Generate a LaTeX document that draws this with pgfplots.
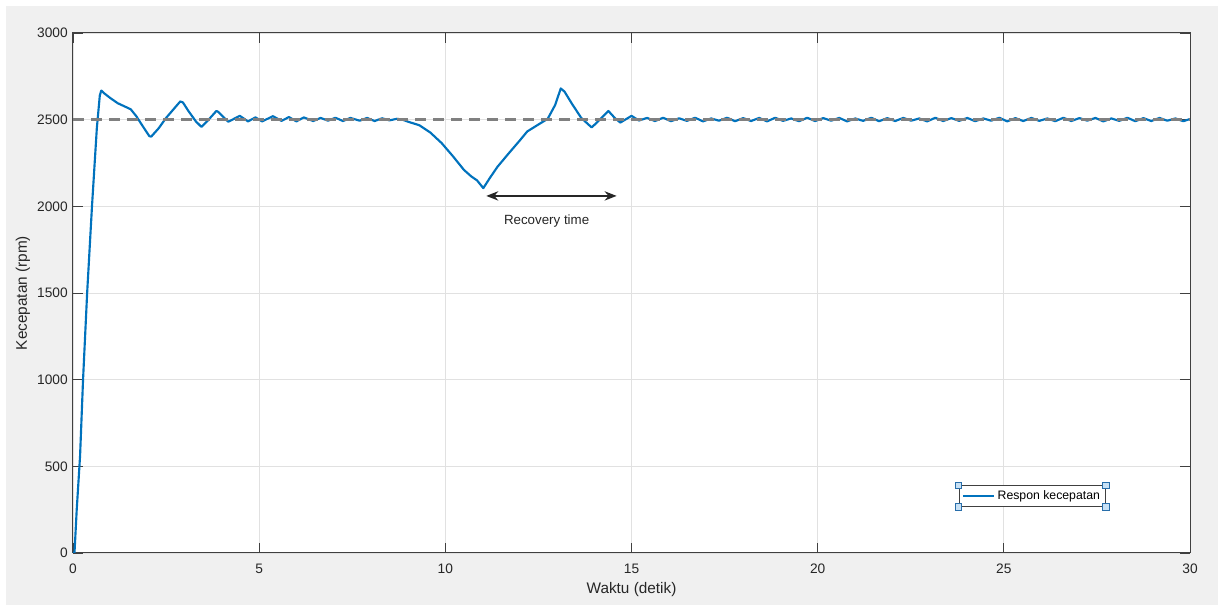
\documentclass[border=0pt]{standalone}
\usepackage{pgfplots}
\pgfplotsset{compat=1.18}
\usepackage{fontspec}
\setmainfont{Liberation Sans}
\usetikzlibrary{arrows.meta,backgrounds}
\definecolor{figbg}{RGB}{240,240,240}
\definecolor{mblue}{RGB}{0,114,189}
\definecolor{refgray}{RGB}{128,128,128}
\definecolor{axcol}{RGB}{64,64,64}
\definecolor{txtcol}{RGB}{38,38,38}
\definecolor{gridcol}{RGB}{225,225,225}
\definecolor{hfill}{RGB}{200,225,245}
\definecolor{hdraw}{RGB}{40,110,170}
\begin{document}
\begin{tikzpicture}
\begin{axis}[
  scale only axis,
  width=837.75pt, height=390pt,
  xmin=0, xmax=30, ymin=0, ymax=3000,
  xtick={0,5,...,30}, ytick={0,500,...,3000},
  grid=major,
  major grid style={gridcol, line width=0.6pt},
  axis line style={axcol, line width=0.75pt},
  tick style={axcol, line width=0.6pt},
  tick align=inside,
  major tick length=7.5pt,
  xtick pos=both, ytick pos=both,
  /pgf/number format/assume math mode=true,
  /pgf/number format/1000 sep={},
  ticklabel style={font=\fontsize{10.3}{12}\selectfont, text=txtcol},
  xticklabel style={anchor=center, yshift=-12pt},
  yticklabel style={anchor=east, inner sep=0pt, xshift=-3.75pt},
  every axis x label/.style={at={([yshift=-27.75pt]axis description cs:0.5,0)}, anchor=center, font=\fontsize{11.5}{13}\selectfont, text=txtcol},
  every axis y label/.style={at={([xshift=-37.5pt]axis description cs:0,0.5)}, rotate=90, anchor=center, font=\fontsize{11.5}{13}\selectfont, text=txtcol},
  xlabel={Waktu (detik)},
  ylabel={Kecepatan (rpm)},
  legend style={at={(axis cs:25.76,329)}, anchor=center, draw=axcol, line width=0.6pt, fill=white,
    font=\fontsize{9.2}{10}\selectfont, inner xsep=2pt, inner ysep=1.8pt, name=leg,
    /tikz/every even column/.append style={column sep=0pt}},
  legend cell align=left,
  legend image code/.code={\draw[#1, line width=2pt] (0pt,0pt) -- (23pt,0pt);},
]
\addplot[mblue, line width=1.6pt, line join=round] coordinates {
(0,0)(0.04,0)(0.1,250)(0.19,560)(0.27,1000)(0.38,1500)(0.51,2000)(0.64,2450)(0.72,2640)(0.76,2668)
(0.85,2650)(1.0,2625)(1.2,2595)(1.4,2575)(1.55,2560)(1.7,2520)(1.85,2470)(2.05,2405)(2.1,2402)
(2.3,2450)(2.5,2510)(2.7,2560)(2.88,2605)(2.95,2600)(3.1,2550)(3.3,2490)(3.45,2458)(3.6,2490)
(3.85,2550)(3.9,2545)(4.17,2488)(4.48,2522)(4.7,2490)(4.9,2513)(5.08,2490)(5.37,2520)(5.6,2493)
(5.8,2515)(6.0,2490)(6.2,2513)(6.45,2492)(6.65,2510)(6.85,2494)(7.05,2511)(7.25,2492)(7.45,2510)
(7.7,2494)(7.9,2510)(8.1,2492)(8.3,2508)(8.5,2496)(8.7,2505)(8.85,2500)
(9.0,2488)(9.3,2468)(9.6,2425)(9.9,2365)(10.2,2290)(10.5,2210)(10.7,2172)(10.85,2150)(11.02,2105)
(11.2,2165)(11.4,2228)(11.7,2305)(12.0,2380)(12.2,2432)(12.5,2472)(12.75,2505)(12.95,2585)(13.1,2680)
(13.2,2662)(13.4,2592)(13.65,2510)(13.93,2455)(14.15,2500)(14.38,2550)(14.55,2510)(14.7,2483)
(15.0,2522)(15.2,2495)
(15.42,2510)(15.63,2492)(15.85,2511)(16.06,2491)(16.28,2508)(16.49,2493)(16.71,2511)(16.92,2490)
(17.14,2507)(17.35,2494)(17.57,2511)(17.78,2491)(18.0,2509)(18.21,2492)(18.43,2510)(18.64,2490)
(18.86,2511)(19.07,2493)(19.29,2507)(19.5,2491)(19.72,2511)(19.93,2492)(20.15,2509)(20.36,2494)
(20.58,2510)(20.79,2490)(21.01,2507)(21.22,2493)(21.44,2511)(21.65,2491)(21.87,2509)(22.08,2492)
(22.3,2510)(22.51,2494)(22.73,2507)(22.94,2490)(23.16,2511)(23.37,2492)(23.59,2509)(23.8,2493)
(24.02,2510)(24.23,2491)(24.45,2507)(24.66,2494)(24.88,2511)(25.09,2490)(25.31,2509)(25.52,2492)
(25.74,2510)(25.95,2493)(26.17,2507)(26.38,2491)(26.6,2511)(26.81,2492)(27.03,2509)(27.24,2494)
(27.46,2510)(27.67,2490)(27.89,2507)(28.1,2493)(28.32,2511)(28.53,2491)(28.75,2509)(28.96,2492)
(29.18,2510)(29.39,2494)(29.61,2507)(29.82,2491)(30.0,2504)
};
\addlegendentry{Respon kecepatan}
\addplot[refgray, line width=2.2pt, dash pattern=on 8pt off 5.5pt, forget plot] coordinates {(0,2500)(30,2500)};
\draw[black!85, line width=1.1pt, {Stealth[length=9pt,width=7pt]}-{Stealth[length=9pt,width=7pt]}] (axis cs:11.1,2060) -- (axis cs:14.6,2060);
\node[font=\fontsize{10}{12}\selectfont, text=txtcol] at (axis cs:12.72,1916) {Recovery time};
\coordinate (ll) at (rel axis cs:0,0);
\coordinate (ur) at (rel axis cs:1,1);
\end{axis}
\foreach \a in {north west, north east, south west, south east}
  \draw[fill=hfill, draw=hdraw, line width=0.5pt] ([shift={(-2.4pt,-2.4pt)}]leg.\a) rectangle ++(4.8pt,4.8pt);
\begin{pgfonlayer}{background}
\fill[white] ([shift={(-54.75pt,-39pt)}]ll) rectangle ([shift={(21pt,24.75pt)}]ur);
\fill[figbg] ([shift={(-50.25pt,-39pt)}]ll) rectangle ([shift={(21pt,20.25pt)}]ur);
\fill[white] (ll) rectangle (ur);
\end{pgfonlayer}
\end{tikzpicture}
\end{document}
